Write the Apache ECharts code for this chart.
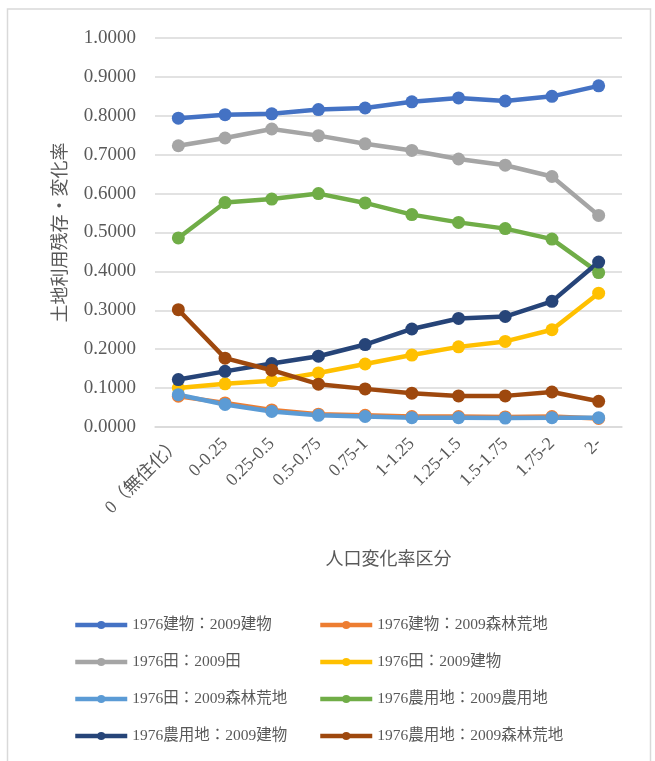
<!DOCTYPE html>
<html>
<head>
<meta charset="utf-8">
<script src="https://cdn.jsdelivr.net/npm/echarts@6/dist/echarts.min.js"></script>
<style>
  html, body { margin: 0; padding: 0; background: #fff; }
  #chart { width: 655px; height: 761px; }
</style>
</head>
<body>
<div id="chart"></div>
<script>
// 人口変化率区分 (x categories)
const categories = ['0（無住化）', '0-0.25', '0.25-0.5', '0.5-0.75', '0.75-1', '1-1.25', '1.25-1.5', '1.5-1.75', '1.75-2', '2-'];

// 土地利用残存・変化率 per transition
const buildToBuild   = [0.794, 0.803, 0.805, 0.816, 0.820, 0.836, 0.846, 0.838, 0.850, 0.877];
const buildToForest  = [0.079, 0.062, 0.044, 0.033, 0.030, 0.027, 0.027, 0.026, 0.027, 0.022];
const paddyToPaddy   = [0.723, 0.743, 0.766, 0.749, 0.728, 0.711, 0.689, 0.673, 0.644, 0.544];
const paddyToBuild   = [0.100, 0.111, 0.119, 0.139, 0.162, 0.185, 0.206, 0.220, 0.250, 0.344];
const paddyToForest  = [0.083, 0.058, 0.040, 0.030, 0.027, 0.024, 0.024, 0.023, 0.024, 0.024];
const farmToFarm     = [0.486, 0.577, 0.586, 0.600, 0.576, 0.546, 0.526, 0.510, 0.483, 0.397];
const farmToBuild    = [0.122, 0.143, 0.163, 0.182, 0.212, 0.252, 0.279, 0.284, 0.323, 0.424];
const farmToForest   = [0.3015, 0.177, 0.146, 0.110, 0.098, 0.087, 0.080, 0.080, 0.090, 0.066];

// y-axis ticks
const yMin = 0, yMax = 1, yStep = 0.1;

const seriesDefs = [
  { name: '1976建物：2009建物',     data: buildToBuild,  color: '#4472C4' },
  { name: '1976建物：2009森林荒地', data: buildToForest, color: '#ED7D31' },
  { name: '1976田：2009田',         data: paddyToPaddy,  color: '#A5A5A5' },
  { name: '1976田：2009建物',       data: paddyToBuild,  color: '#FFC000' },
  { name: '1976田：2009森林荒地',   data: paddyToForest, color: '#5B9BD5' },
  { name: '1976農用地：2009農用地', data: farmToFarm,    color: '#70AD47' },
  { name: '1976農用地：2009建物',   data: farmToBuild,   color: '#264478' },
  { name: '1976農用地：2009森林荒地', data: farmToForest, color: '#9E480E' }
];

const FONT = '"Liberation Serif", "DejaVu Serif", "Noto Sans CJK JP", serif';
const TEXT = '#595959';

const chart = echarts.init(document.getElementById('chart'), null, { renderer: 'canvas' });

const legendBase = {
  orient: 'vertical',
  padding: 0,
  itemWidth: 52,
  itemHeight: 10,
  itemGap: 21,
  selectedMode: false,
  textStyle: { fontFamily: FONT, fontSize: 15.5, color: TEXT, lineHeight: 16 },
  lineStyle: { width: 4.5 }
};

chart.setOption({
  animation: false,
  backgroundColor: '#fff',
  textStyle: { fontFamily: FONT },
  graphic: [{
    type: 'rect',
    shape: { x: 7.5, y: 9, width: 643, height: 760 },
    style: { fill: 'none', stroke: '#d9d9d9', lineWidth: 1.5 },
    silent: true
  }],
  grid: { left: 155, right: 33, top: 38, bottom: 334, containLabel: false },
  legend: [
    Object.assign({}, legendBase, {
      left: 73, top: 617,
      data: [seriesDefs[0].name, seriesDefs[2].name, seriesDefs[4].name, seriesDefs[6].name]
    }),
    Object.assign({}, legendBase, {
      left: 318, top: 617,
      data: [seriesDefs[1].name, seriesDefs[3].name, seriesDefs[5].name, seriesDefs[7].name]
    })
  ],
  xAxis: {
    type: 'category',
    data: categories,
    boundaryGap: true,
    name: '人口変化率区分',
    nameLocation: 'middle',
    nameGap: 124,
    nameTextStyle: { fontFamily: FONT, fontSize: 18, color: TEXT },
    axisLine: { lineStyle: { color: '#d9d9d9', width: 1.5 } },
    axisTick: { show: false },
    axisLabel: { rotate: 45, margin: 14, fontFamily: FONT, fontSize: 18, color: TEXT, interval: 0 }
  },
  yAxis: {
    type: 'value',
    min: yMin, max: yMax, interval: yStep,
    name: '土地利用残存・変化率',
    nameLocation: 'middle',
    nameGap: 85,
    nameRotate: 90,
    nameTextStyle: { fontFamily: FONT, fontSize: 18, color: TEXT },
    axisLine: { show: false },
    axisTick: { show: false },
    splitLine: { lineStyle: { color: '#d9d9d9', width: 1.5 } },
    axisLabel: {
      margin: 19, fontFamily: FONT, fontSize: 19, color: TEXT,
      formatter: v => v.toFixed(4)
    }
  },
  series: seriesDefs.map(s => ({
    type: 'line',
    name: s.name,
    data: s.data,
    color: s.color,
    symbol: 'circle',
    symbolSize: 13,
    lineStyle: { width: 4.5, color: s.color },
    itemStyle: { color: s.color },
    emphasis: { disabled: true }
  }))
});
</script>
</body>
</html>
